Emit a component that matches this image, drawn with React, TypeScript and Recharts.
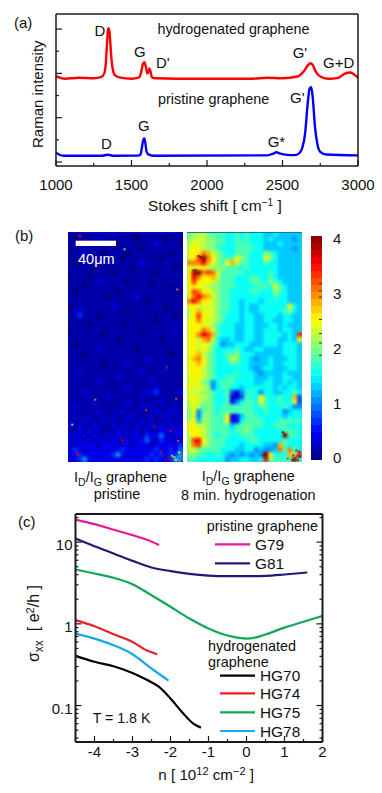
import { Bar, BarChart, Line, LineChart, Scatter, ScatterChart, XAxis, YAxis } from "recharts";

// (a) Raman spectra, intensity in axis units
const ramanHydrogenated = [
  [1000, 1.94], [1030, 1.9], [1060, 1.88], [1150, 1.9], [1250, 1.89], [1300, 1.92], [1320, 2.0], [1330, 2.23],
  [1338, 2.68], [1345, 3.0], [1350, 3.02], [1356, 2.87], [1365, 2.42], [1375, 2.11], [1390, 1.96], [1420, 1.91],
  [1500, 1.88], [1550, 1.91], [1565, 2.04], [1575, 2.21], [1585, 2.25], [1595, 2.15], [1605, 2.0], [1610, 2.02],
  [1618, 2.11], [1625, 2.06], [1635, 1.91], [1660, 1.89], [1800, 1.88], [2000, 1.88], [2300, 1.88], [2400, 1.9],
  [2500, 1.89], [2600, 1.93], [2640, 2.04], [2665, 2.17], [2685, 2.23], [2700, 2.19], [2720, 2.04], [2750, 1.93],
  [2800, 1.88], [2870, 1.9], [2910, 1.99], [2950, 2.02], [2980, 1.96], [3000, 1.9],
].map(([x, y]) => ({ x, y }));

const ramanPristine = [
  [1000, 0.21], [1020, 0.17], [1050, 0.14], [1300, 0.14], [1345, 0.165], [1380, 0.14], [1540, 0.145], [1560, 0.17],
  [1570, 0.35], [1578, 0.5], [1585, 0.53], [1592, 0.42], [1600, 0.23], [1615, 0.165], [1650, 0.14], [2400, 0.15],
  [2440, 0.19], [2460, 0.22], [2480, 0.195], [2530, 0.16], [2580, 0.155], [2610, 0.195], [2630, 0.31], [2650, 0.65],
  [2665, 1.25], [2680, 1.66], [2690, 1.69], [2700, 1.47], [2715, 0.8], [2730, 0.42], [2750, 0.23], [2790, 0.17],
  [3000, 0.15],
].map(([x, y]) => ({ x, y }));

const ramanXTicks = [1000, 1250, 1500, 1750, 2000, 2250, 2500, 2750, 3000];
const ramanXLabels = [1000, 1500, 2000, 2500, 3000];
const ramanYTicks = [0, 0.5, 1, 1.5, 2, 2.5, 3];
const ramanYMajor = [0, 1, 2, 3];

// (b) I_D/I_G maps, one character per cell, level 0-g in steps of 0.25
const mapPristine = [
  "111011111211101111111111", "101111211111110111110111", "111110111101111111211110", "011111111111111011111111",
  "111211101111011111111011", "111111111110111111101111", "101111111111111211111111", "111110111111101111111101",
  "111111111011111111011111", "011101111111111111111111", "111111211111011110111111", "111011111111111111111011",
  "101111111101111111111111", "111111110111112111111111", "111111111111111101111111", "011111111211111111110111",
  "112111111111011111111111", "113111011111111111111101", "111111111111111111011111", "111101111110111111111111",
  "011111111111111011111121", "111111101111111111111111", "111111111101111111101111", "101111111111111111111111",
  "111111211111110111111111", "111011111111111111111011", "111111111111111121111111", "111111101111211111111111",
  "111111111111111111112111", "112111111111111211111111", "111111111121111111111111", "111111211111111112111111",
  "111111111111211111211111", "111211111111111122311112", "111111112111111211111111", "111112111111211111121111",
  "121111111111111212111121", "111111211112111111211211", "121121111211121111112112", "111211121111211212111211",
  "212112111212112112121212", "112121211121212121122122", "221212112122122132242122", "122121221221212242132212",
  "212222122212212221222223", "232122222223222222322324", "223222222352222223232335", "223522222222222232322355",
];

const mapHydrogenated = [
  "889987776676766655655555", "899988776676766656555545", "9a9988776677766655565555", "9aa988766677776655555545",
  "aaacb9876677766687655555", "9adgca8777a87666a8655555", "ccceba87ab97766676655555", "a9aa98887776766666655555",
  "afgcdc977777666667655555", "aecaab977766677667655555", "adaaa9877766677768765555", "aaa998877766667776a76555",
  "adcaa9877666677666876555", "acecb9877666666666766555", "cecaa9877665666566666555", "aa9a99877665655666666a65",
  "9ab9a9877665655666667865", "9adaa9876665665566656655", "aaca99876665665566556655", "aaa9a8766655665556656555",
  "aaacb9766655665566656655", "aacedb76665566556666565d", "aa9bc965565566556665565a", "aa9a98645566655566656665",
  "aa9a97666676556655556665", "aab987667786665555556665", "abca87667986654556555665", "aaba87666776655556556665",
  "aaa987666666654566555665", "aaa987666676665455556555", "9aa987667766665556556655", "aa9874677766665566556565",
  "a9a984677665666666565665", "999887667314676466556676", "aa9987667113766a766766b3", "9a9887667246776a766766a3",
  "999787677777776776667644", "8a4787677777776676664566", "89488777a125777666665666", "9a588777a226777766677777",
  "aa9987777577877766777666", "aaa987777677876666667776", "9aa98767766777666666g776", "9dea87776666677666667666",
  "9cd987776665666655 4b766", "998777766655664544 5c7c76", "887766765454545 4ga666b8e", "77666666455665 56e87777g7",
].map((row) => row.replace(/ /g, ""));

const specksPristine = [
  [2.5, 0.8, 3.5], [11.8, 3.6, 2], [22.8, 12, 3], [20.7, 28.3, 3.6], [11.1, 43.1, 4], [11.4, 43.5, 3.6], [1.9, 46.2, 3.5],
  [2.4, 46.6, 3.7], [21.4, 41.5, 3.5], [18.1, 40.6, 3.7], [16.3, 37.2, 3.3], [5.7, 35, 3], [22.6, 34.8, 3.2], [0.9, 40.2, 2],
  [23, 43.6, 3.2], [19.4, 45.8, 3.6], [20.3, 47.4, 3.9], [20.9, 46.9, 3.8], [21.7, 46.7, 2.7], [22.2, 47, 2.6], [23.2, 46, 2.5],
  [23.4, 47.2, 3.4], [22.5, 47.6, 2.2], [21.4, 47.6, 3.9],
];

const specksHydrogenated = [
  [2.4, 5, 4], [2.8, 5.2, 4], [1.4, 8, 4], [1.9, 8, 3.9], [16.3, 46.4, 4], [16, 46.6, 3.9], [2, 43.6, 3.6], [23.7, 21.3, 3.5],
  [3.8, 21.3, 3.6], [20, 41.8, 4], [20.4, 42.2, 3.9], [22.8, 45.6, 3.7], [23.4, 45.8, 3.8], [22.2, 46.6, 3.5], [23.1, 46.8, 3.6],
  [23.6, 46.9, 3.9], [21, 47.3, 3.4], [22, 47.6, 3.7], [23.2, 47.6, 3.5],
];

const colorBands = [
  0, 0.125, 0.25, 0.375, 0.5, 0.625, 0.75, 0.875, 1, 1.125, 1.25, 1.375, 1.5, 1.625, 1.75, 1.875,
  2, 2.125, 2.25, 2.375, 2.5, 2.625, 2.75, 2.875, 3, 3.125, 3.25, 3.375, 3.5, 3.625, 3.75, 3.875,
];
const colorbarLabels = [0, 1, 2, 3, 4];
const colorbarMinor = [1.87, 2.09, 2.26, 2.51, 2.91, 3.02, 3.15];

// (c) conductivity curves
const g79 = [[-4.5, 18.9], [-4, 16.6], [-3.5, 14.2], [-3, 12.2], [-2.6, 10.6], [-2.3, 9.2]];
const g81 = [
  [-4.5, 11.1], [-4, 8.93], [-3.5, 7.27], [-3, 5.9], [-2.5, 4.9], [-2, 4.42], [-1.5, 4.09], [-1, 3.9], [-0.5, 3.83],
  [0, 3.83], [0.5, 3.87], [1, 4.02], [1.6, 4.25],
];
const hg70 = [
  [-4.5, 0.406], [-4, 0.343], [-3.5, 0.303], [-3, 0.251], [-2.6, 0.204], [-2.3, 0.169], [-2, 0.122], [-1.7, 0.0836],
  [-1.4, 0.06], [-1.2, 0.0537],
];
const hg74 = [[-4.5, 1.11], [-4, 0.935], [-3.5, 0.747], [-3, 0.6], [-2.6, 0.467], [-2.35, 0.425]];
const hg75 = [
  [-4.5, 4.63], [-4, 4.13], [-3.5, 3.66], [-3, 3.06], [-2.5, 2.24], [-2, 1.62], [-1.5, 1.16], [-1, 0.877], [-0.5, 0.72],
  [-0.2, 0.674], [0, 0.66], [0.3, 0.693], [0.5, 0.74], [1, 0.9], [1.5, 1.06], [2, 1.25],
];
const hg78 = [[-4.5, 0.76], [-4, 0.66], [-3.5, 0.548], [-3, 0.425], [-2.5, 0.284], [-2.05, 0.202]];

const curves = [
  { name: "G79", color: "#e8179a", points: g79 },
  { name: "G81", color: "#1c1c78", points: g81 },
  { name: "HG70", color: "#000000", points: hg70 },
  { name: "HG74", color: "#ee1c25", points: hg74 },
  { name: "HG75", color: "#0ea858", points: hg75 },
  { name: "HG78", color: "#14a9ec", points: hg78 },
];

const sigmaXTicks = [-4.5, -4, -3.5, -3, -2.5, -2, -1.5, -1, -0.5, 0, 0.5, 1, 1.5, 2];
const sigmaXLabels = [-4, -3, -2, -1, 0, 1, 2];
const sigmaYTicks = [
  0.04, 0.05, 0.06, 0.07, 0.08, 0.09, 0.1, 0.2, 0.3, 0.4, 0.5, 0.6, 0.7, 0.8, 0.9, 1, 2, 3, 4, 5, 6, 7, 8, 9, 10, 20,
];
const sigmaYLabels = [0.1, 1, 10];

const AXIS = "#1a1a1a";
const LEVELS = "0123456789abcdefg";

function jet(value: number) {
  const t = value / 4;
  const c = (d: number) => Math.round(255 * Math.max(0, Math.min(1, 1.5 - Math.abs(4 * t - d))));
  return `rgb(${c(3)},${c(2)},${c(1)})`;
}

function gridCells(rows: string[], bias: number) {
  const cells: { col: number; row: number; v: number }[] = [];
  rows.forEach((line, r) => {
    line.split("").forEach((ch, c) => {
      cells.push({ col: c + 0.5, row: r + 0.5, v: LEVELS.indexOf(ch) * 0.25 + bias });
    });
  });
  return cells;
}

// ticks point into the plot, so all of them are drawn by hand
function xTick(dir: number, majors: number[], labels: number[], len = 6, size = 15, dy = 24) {
  return ({ x, y, payload }: any) => {
    const isMajor = majors.includes(payload.value);
    return (
      <g>
        <line x1={x} x2={x} y1={y} y2={y + dir * (isMajor ? len : len / 2)} stroke={AXIS} strokeWidth={1.2} />
        {labels.includes(payload.value) && (
          <text x={x} y={y + dy} textAnchor="middle" fontSize={size} fill="#111">
            {payload.value}
          </text>
        )}
      </g>
    );
  };
}

function yTick(dir: number, majors: number[], labels: number[], len = 6, size = 15) {
  return ({ x, y, payload }: any) => {
    const isMajor = majors.includes(payload.value);
    return (
      <g>
        <line x1={x} x2={x + dir * (isMajor ? len : len / 2)} y1={y} y2={y} stroke={AXIS} strokeWidth={1.2} />
        {labels.includes(payload.value) && (
          <text x={x - 3} y={y + 8} textAnchor="end" fontSize={size} fill="#111">
            {payload.value}
          </text>
        )}
      </g>
    );
  };
}

function colorbarTick({ x, y, payload }: any) {
  const isLabel = colorbarLabels.includes(payload.value);
  if (!isLabel) {
    return <line x1={x - 3} x2={x} y1={y} y2={y} stroke="#333" strokeWidth={1} />;
  }
  return (
    <text x={x + 11} y={y + 3.4 + payload.value * 1.15} fontSize={15} fill="#111">
      {payload.value}
    </text>
  );
}

function RamanChart() {
  return (
    <div style={{ position: "absolute", left: 0, top: 0 }}>
      <LineChart width={382} height={215} margin={{ top: 0, right: 0, bottom: 0, left: 0 }}>
        <XAxis
          dataKey="x"
          type="number"
          domain={[1000, 3000]}
          ticks={ramanXTicks}
          interval={0}
          height={49}
          tickSize={0}
          tickMargin={0}
          tickLine={false}
          axisLine={{ stroke: AXIS, strokeWidth: 1.5 }}
          tick={xTick(-1, ramanXLabels, ramanXLabels)}
        />
        <XAxis
          xAxisId="top"
          orientation="top"
          type="number"
          domain={[1000, 3000]}
          ticks={ramanXTicks}
          interval={0}
          height={14}
          tickSize={0}
          tickMargin={0}
          tickLine={false}
          axisLine={{ stroke: AXIS, strokeWidth: 1.5 }}
          tick={xTick(1, ramanXLabels, [])}
        />
        <YAxis
          type="number"
          domain={[-0.09, 3.34]}
          ticks={ramanYTicks}
          interval={0}
          width={56}
          tickSize={0}
          tickMargin={0}
          tickLine={false}
          axisLine={{ stroke: AXIS, strokeWidth: 1.5 }}
          tick={yTick(1, ramanYMajor, [])}
        />
        <YAxis
          yAxisId="right"
          orientation="right"
          type="number"
          domain={[-0.09, 3.34]}
          ticks={ramanYTicks}
          interval={0}
          width={24}
          tickSize={0}
          tickMargin={0}
          tickLine={false}
          axisLine={{ stroke: AXIS, strokeWidth: 1.5 }}
          tick={yTick(-1, ramanYMajor, [])}
        />
        <Line data={ramanHydrogenated} dataKey="y" type="monotone" stroke="#ff0000" strokeWidth={2.4} dot={false} isAnimationActive={false} />
        <Line data={ramanPristine} dataKey="y" type="monotone" stroke="#0000ff" strokeWidth={2.4} dot={false} isAnimationActive={false} />
      </LineChart>
    </div>
  );
}

function HeatMap({ rows, specks, left, base, bias, edge }: { rows: string[]; specks: number[][]; left: number; base: string; bias: number; edge: string }) {
  const axes = [
    <XAxis key="x" dataKey="col" type="number" domain={[0, 24]} hide />,
    <YAxis key="y" dataKey="row" type="number" domain={[0, 48]} reversed hide />,
  ];
  return (
    <div style={{ position: "absolute", left, top: 232, width: 115, height: 230, overflow: "hidden", background: base }}>
      <div style={{ position: "absolute", left: 0, top: 0, filter: "blur(1.6px)" }}>
        <ScatterChart width={115} height={230} margin={{ top: 0, right: 0, bottom: 0, left: 0 }}>
          {axes}
          <Scatter
            data={gridCells(rows, bias)}
            isAnimationActive={false}
            shape={({ cx, cy, payload }: any) => (
              <rect x={cx - 2.6} y={cy - 2.6} width={5.2} height={5.2} fill={jet(payload.v)} />
            )}
          />
        </ScatterChart>
      </div>
      <div style={{ position: "absolute", left: 0, top: 0 }}>
        <ScatterChart width={115} height={230} margin={{ top: 0, right: 0, bottom: 0, left: 0 }}>
          {axes}
          <Scatter
            data={specks.map(([col, row, v]) => ({ col, row, v }))}
            isAnimationActive={false}
            shape={({ cx, cy, payload }: any) => (
              <rect x={cx - 1} y={cy - 1} width={2} height={2} fill={jet(payload.v)} opacity={0.85} />
            )}
          />
        </ScatterChart>
      </div>
      <div style={{ position: "absolute", left: 0, top: 0, width: 115, height: 1, background: edge }} />
    </div>
  );
}

function Colorbar() {
  const row: Record<string, number> = { band: 0 };
  colorBands.forEach((start, i) => {
    row[`b${i}`] = 0.125;
  });
  return (
    <div style={{ position: "absolute", left: 311, top: 228 }}>
      <BarChart width={60} height={240} data={[row]} margin={{ top: 8, right: 0, bottom: 8, left: 0 }} barCategoryGap={0}>
        <XAxis dataKey="band" hide />
        <YAxis
          orientation="right"
          type="number"
          domain={[0, 4]}
          ticks={[...colorbarLabels, ...colorbarMinor]}
          interval={0}
          width={49}
          tickSize={0}
          tickMargin={0}
          tickLine={false}
          axisLine={false}
          tick={colorbarTick}
        />
        {colorBands.map((start, i) => (
          <Bar key={i} dataKey={`b${i}`} stackId="bar" fill={jet(start + 0.0625)} isAnimationActive={false} />
        ))}
      </BarChart>
    </div>
  );
}

function SigmaChart() {
  return (
    <div style={{ position: "absolute", left: 0, top: 510 }}>
      <LineChart width={382} height={283} margin={{ top: 0, right: 0, bottom: 0, left: 0 }}>
        <XAxis
          dataKey="x"
          type="number"
          domain={[-4.5, 2]}
          ticks={sigmaXTicks}
          interval={0}
          height={51}
          tickSize={0}
          tickMargin={0}
          tickLine={false}
          axisLine={{ stroke: AXIS, strokeWidth: 2 }}
          tick={xTick(-1, sigmaXLabels, sigmaXLabels, 6, 15, 15)}
        />
        <XAxis
          xAxisId="top"
          orientation="top"
          type="number"
          domain={[-4.5, 2]}
          ticks={sigmaXTicks}
          interval={0}
          height={4}
          tickSize={0}
          tickMargin={0}
          tickLine={false}
          axisLine={{ stroke: AXIS, strokeWidth: 2 }}
          tick={xTick(1, sigmaXLabels, [])}
        />
        <YAxis
          type="number"
          scale="log"
          domain={[0.0358, 22.1]}
          allowDataOverflow
          ticks={sigmaYTicks}
          interval={0}
          width={75.5}
          tickSize={0}
          tickMargin={0}
          tickLine={false}
          axisLine={{ stroke: AXIS, strokeWidth: 2 }}
          tick={yTick(1, sigmaYLabels, sigmaYLabels)}
        />
        <YAxis
          yAxisId="right"
          orientation="right"
          type="number"
          scale="log"
          domain={[0.0358, 22.1]}
          allowDataOverflow
          ticks={sigmaYTicks}
          interval={0}
          width={59.5}
          tickSize={0}
          tickMargin={0}
          tickLine={false}
          axisLine={{ stroke: AXIS, strokeWidth: 2 }}
          tick={yTick(-1, sigmaYLabels, [])}
        />
        {curves.map((curve) => (
          <Line
            key={curve.name}
            name={curve.name}
            data={curve.points.map(([x, y]) => ({ x, y }))}
            dataKey="y"
            type="monotone"
            stroke={curve.color}
            strokeWidth={2.2}
            dot={false}
            isAnimationActive={false}
          />
        ))}
      </LineChart>
    </div>
  );
}

// panel letters, axis titles, peak names and legend rows
const legendRows: Record<string, [number, number, number, number]> = {
  G79: [215, 250, 544.3, 255],
  G81: [215, 250, 563.3, 255],
  HG70: [220, 255, 675.7, 260],
  HG74: [220, 255, 693.3, 260],
  HG75: [220, 255, 712.3, 260],
  HG78: [220, 255, 731, 260],
};

function Annotations() {
  const t = (x: number, y: number, s: string, size = 15, fill = "#111") => (
    <text x={x} y={y} fontSize={size} fill={fill}>
      {s}
    </text>
  );
  return (
    <svg width={382} height={793} style={{ position: "absolute", left: 0, top: 0, pointerEvents: "none" }}>
      {t(14, 28, "(a)", 15)}
      {t(157.5, 33.5, "hydrogenated graphene", 14.3)}
      {t(158, 104, "pristine graphene", 14.4)}
      {t(94.5, 36, "D")}
      {t(134, 56.7, "G")}
      {t(156, 68, "D'")}
      {t(292.7, 58, "G'")}
      {t(323, 68, "G+D")}
      {t(290, 103, "G'")}
      {t(138, 131, "G")}
      {t(101, 149, "D")}
      {t(267.7, 147, "G*")}
      <text x={43} y={148} fontSize={15} fill="#111" transform="rotate(-90 43 148)">
        Raman intensity
      </text>
      <text x={148} y={211} fontSize={15.5} fill="#111">
        Stokes shift [ cm<tspan dy={-5} fontSize={10}>−1</tspan>
        <tspan dy={5}> ]</tspan>
      </text>

      {t(15, 240.7, "(b)", 15)}
      <rect x={75.7} y={240.7} width={40.3} height={5.3} fill="#fff" />
      {t(78, 264, "40μm", 14.5, "#fff")}
      <text x={74} y={481.7} fontSize={14.5} fill="#111">
        I<tspan dy={4} fontSize={10.5}>D</tspan>
        <tspan dy={-4}>/I</tspan>
        <tspan dy={4} fontSize={10.5}>G</tspan>
        <tspan dy={-4}> graphene</tspan>
      </text>
      {t(93.7, 499.3, "pristine", 14.5)}
      <text x={201.7} y={481} fontSize={14.5} fill="#111">
        I<tspan dy={4} fontSize={10.5}>D</tspan>
        <tspan dy={-4}>/I</tspan>
        <tspan dy={4} fontSize={10.5}>G</tspan>
        <tspan dy={-4}> graphene</tspan>
      </text>
      {t(181, 499.5, "8 min. hydrogenation", 14.4)}

      {t(18, 527, "(c)", 15)}
      {t(206.7, 530.7, "pristine graphene", 14.4)}
      {t(208, 650.7, "hydrogenated", 14.4)}
      {t(208, 667.3, "graphene", 14.4)}
      {t(92.7, 723.3, "T = 1.8 K", 14.2)}
      {curves.map((curve) => {
        const [x1, x2, y, tx] = legendRows[curve.name];
        return (
          <g key={curve.name}>
            <line x1={x1} x2={x2} y1={y} y2={y} stroke={curve.color} strokeWidth={2.2} />
            <text x={tx} y={y + 5.5} fontSize={15.4} fill="#111">
              {curve.name}
            </text>
          </g>
        );
      })}
      <text x={39} y={662} fontSize={16} fill="#111" transform="rotate(-90 39 662)">
        σ<tspan dy={4} fontSize={12}>xx</tspan>
        <tspan dy={-4}>{"\u00a0\u00a0[ e"}</tspan>
        <tspan dy={-5} fontSize={11}>2</tspan>
        <tspan dy={5}>/h ]</tspan>
      </text>
      <text x={158.3} y={780} fontSize={15.2} fill="#111">
        n [ 10<tspan dy={-5} fontSize={11}>12</tspan>
        <tspan dy={5}> cm</tspan>
        <tspan dy={-5} fontSize={11}>−2</tspan>
        <tspan dy={5}> ]</tspan>
      </text>
    </svg>
  );
}

export default function App() {
  return (
    <div
      style={{
        position: "absolute",
        left: 0,
        top: 0,
        width: 382,
        height: 793,
        overflow: "hidden",
        background: "#fff",
        fontFamily: "'Liberation Sans', sans-serif",
      }}
    >
      <RamanChart />
      <HeatMap rows={mapPristine} specks={specksPristine} left={67.5} base="#0808b8" bias={-0.09} edge="#0808b8" />
      <HeatMap rows={mapHydrogenated} specks={specksHydrogenated} left={187} base="#30e0e0" bias={0.04} edge="#0b7f8c" />
      <Colorbar />
      <SigmaChart />
      <Annotations />
    </div>
  );
}
